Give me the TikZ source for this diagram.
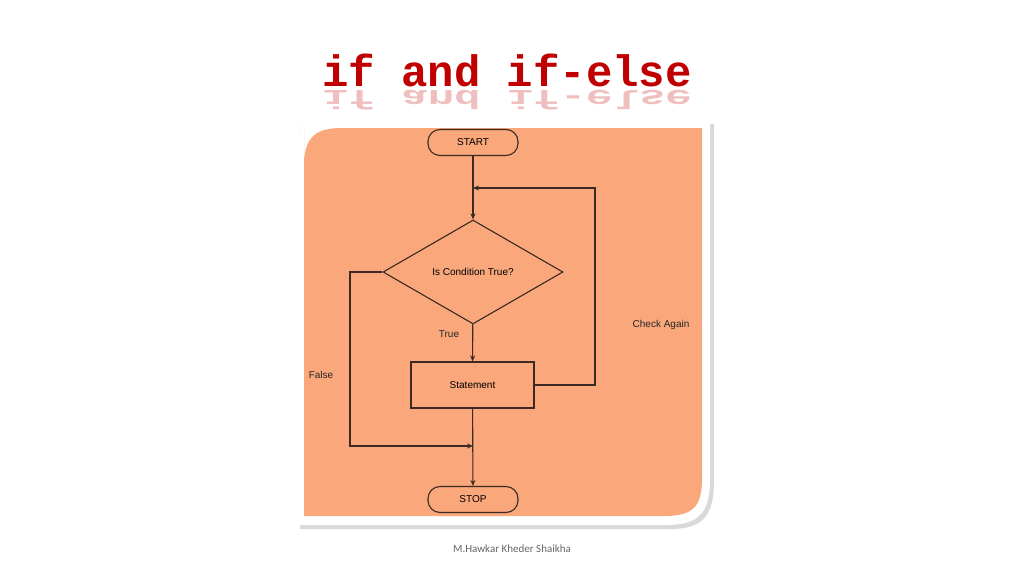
\documentclass[tikz,border=0pt]{standalone}
\usepackage{fontspec}
\setmainfont{Liberation Sans}
\newfontfamily\titlefont{Liberation Mono}
\newfontfamily\footfont{Carlito}
\usetikzlibrary{shapes.geometric,arrows.meta}
\definecolor{bg}{HTML}{F9A77B}
\definecolor{ttl}{HTML}{C00000}
\definecolor{ln}{HTML}{3A2A22}
\tikzset{
  box/.style={draw=ln,line width=1.1pt,fill=bg,font=\fontsize{10}{12}\selectfont,inner sep=0pt},
  term/.style={box,rounded corners=12pt,minimum width=90pt,minimum height=26pt},
  proc/.style={box,minimum width=123pt,minimum height=46pt},
  dec/.style={box,diamond,minimum width=180pt,minimum height=104pt,aspect=1.73},
  con/.style={draw=ln,line width=1.1pt,-{Stealth[length=6pt,width=5pt]}},
  lbl/.style={font=\fontsize{10}{12}\selectfont,text=black!85}
}
\begin{document}
\begin{tikzpicture}[x=1pt,y=-1pt]
\useasboundingbox (0,0) rectangle (1024,576);
\fill[white] (0,0) rectangle (1024,576);
% title
\node[font=\titlefont\bfseries\fontsize{44}{48}\selectfont,text=ttl] (title) at (507,70) {if and if-else};
\node[font=\titlefont\bfseries\fontsize{44}{48}\selectfont,text=ttl,opacity=0.25,yscale=-0.6,anchor=north] (refl) at (507,112) {if and if-else};
% panel
\fill[black!15] (300,124) -- (300,170) .. controls (300,135) and (310,124) .. (345,124) -- (714,124) -- (714,480) .. controls (714,515) and (704,529) .. (670,529) -- (300,529) -- cycle;
\fill[white] (296,120) -- (296,165) .. controls (296,132) and (306,120) .. (340,120) -- (710,120) -- (710,478) .. controls (710,512) and (700,525) .. (666,525) -- (296,525) -- cycle;
\fill[bg] (304,128) -- (304,168) .. controls (304,140) and (312,128) .. (342,128) -- (702,128) -- (702,478) .. controls (702,506) and (694,516) .. (664,516) -- (304,516) -- cycle;
% nodes
\node[term] (start) at (473,142.5) {START};
\node[dec] (cond) at (473,272) {Is Condition True?};
\node[proc] (stmt) at (472.5,385) {Statement};
\node[term] (stop) at (473,499.5) {STOP};
\coordinate (loopin) at (473,188);
\coordinate (merge) at (473,446);
% connectors
\draw[con] (start) -- (cond);
\draw[con] (cond) -- (stmt);
\draw[con] (stmt.east) -- (595,385) -- (595,188) -- (loopin);
\draw[con] (cond.west) -- (350,272) -- (350,446) -- (merge);
\draw[con] (stmt) -- (stop);
% labels
\node[lbl] (ltrue) at (449,334) {True};
\node[lbl] (lfalse) at (321,375) {False};
\node[lbl] (lcheck) at (661,325) {Check Again};
\node[font=\footfont\fontsize{11}{13}\selectfont,text=black!60] (foot) at (512,549) {M.Hawkar Kheder Shaikha};
\end{tikzpicture}
\end{document}
